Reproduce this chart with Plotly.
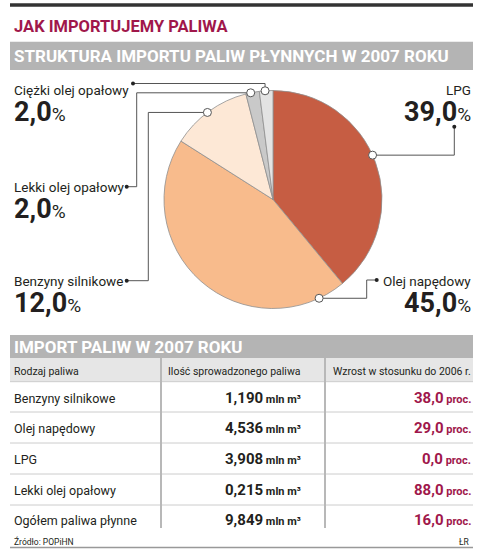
import math
import plotly.graph_objects as go

W, H = 482, 557

# ---- data ----
pie_labels = ["LPG", "Olej napędowy", "Benzyny silnikowe", "Lekki olej opałowy", "Ciężki olej opałowy"]
pie_values = [39.0, 45.0, 12.0, 2.0, 2.0]
pie_colors = ["#c65d43", "#f8bb8c", "#fde8d6", "#c9c9c9", "#e3e3e3"]

table_fuels = ["Benzyny silnikowe", "Olej napędowy", "LPG", "Lekki olej opałowy", "Ogółem paliwa płynne"]
table_amounts = [1.190, 4.536, 3.908, 0.215, 9.849]
table_growth = [38.0, 29.0, 0.0, 88.0, 16.0]
table_headers = ["Rodzaj paliwa", "Ilość sprowadzonego paliwa", "Wzrost w stosunku do 2006 r."]

title = "JAK IMPORTUJEMY PALIWA"
subtitle1 = "STRUKTURA IMPORTU PALIW PŁYNNYCH W 2007 ROKU"
subtitle2 = "IMPORT PALIW W 2007 ROKU"
source = "Źródło: POPiHN"
author = "ŁR"

FONT = "Roboto, Liberation Sans, sans-serif"
DARK = "#231f20"
RED = "#a0174b"


def px(x):
    return x / W


def py(y):
    return 1 - y / H


def fmt(v, d):
    return f"{v:.{d}f}".replace(".", ",")


fig = go.Figure()

# pie geometry (pixels)
CX, CY, R = 273, 199.5, 109
fig.add_trace(go.Pie(
    labels=pie_labels, values=pie_values, sort=False, direction="clockwise", rotation=0,
    marker=dict(colors=pie_colors, line=dict(color="#8f8f8f", width=0.8)),
    textinfo="none", hoverinfo="label+percent", showlegend=False,
    domain=dict(x=[px(CX - R), px(CX + R)], y=[py(CY + R), py(CY - R)]),
))

total = sum(pie_values)
# fraction within each slice where the leader line touches the pie
touch = [0.47, 0.09, 0.477, 0.36, 0.42]
anchors = []
cum = 0
for v, f in zip(pie_values, touch):
    a = (cum + v * f) / total * 2 * math.pi
    anchors.append((CX + R * math.sin(a), CY - R * math.cos(a)))
    cum += v

shapes = []
# header bars
shapes.append(dict(type="rect", xref="paper", yref="paper", x0=px(10), x1=px(473), y0=py(6.7), y1=py(3.3),
                   fillcolor="#333333", line_width=0))
shapes.append(dict(type="rect", xref="paper", yref="paper", x0=px(10), x1=px(473), y0=py(70), y1=py(41.7),
                   fillcolor="#b4b4b4", line_width=0))
shapes.append(dict(type="rect", xref="paper", yref="paper", x0=px(10), x1=px(473), y0=py(358), y1=py(335),
                   fillcolor="#b4b4b4", line_width=0))
shapes.append(dict(type="rect", xref="paper", yref="paper", x0=px(10), x1=px(473), y0=py(381.7), y1=py(358),
                   fillcolor="#e6e6e6", line_width=0))

# leader lines: label-end dot, elbow path, pie point
LC = "#555555"
leader = {
    "LPG": [(454.3, 126.7), (454.3, None)],
    "Olej napędowy": [(376.7, 280), (366.7, 280), (366.7, None)],
    "Benzyny silnikowe": [(126.7, 280.7), (148.3, 280.7), (148.3, None)],
    "Lekki olej opałowy": [(126.7, 186.7), (136.7, 186.7), (136.7, None)],
    "Ciężki olej opałowy": [(133, 83.5), (None, 83.5)],
}
for lab, (ax, ay) in zip(pie_labels, anchors):
    pts = leader[lab]
    full = []
    for (x, y) in pts:
        full.append((x if x is not None else ax, y if y is not None else ay))
    full.append((ax, ay))
    path = "M " + " L ".join(f"{px(x)},{py(y)}" for x, y in full)
    shapes.append(dict(type="path", xref="paper", yref="paper", path=path, line=dict(color=LC, width=1)))
    x0, y0 = full[0]
    shapes.append(dict(type="circle", xref="paper", yref="paper", x0=px(x0 - 2), x1=px(x0 + 2),
                       y0=py(y0 + 2), y1=py(y0 - 2), fillcolor="#222222", line_width=0))
    shapes.append(dict(type="circle", xref="paper", yref="paper", x0=px(ax - 4), x1=px(ax + 4),
                       y0=py(ay + 4), y1=py(ay - 4), fillcolor="white", line=dict(color="#555555", width=1)))

# table lines
for y in [381.7, 412, 443, 474, 505]:
    shapes.append(dict(type="line", xref="paper", yref="paper", x0=px(10), x1=px(473), y0=py(y), y1=py(y),
                       line=dict(color="#cccccc", width=1)))
for x in [161, 325]:
    shapes.append(dict(type="line", xref="paper", yref="paper", x0=px(x), x1=px(x), y0=py(358), y1=py(528),
                       line=dict(color="#b8b8b8", width=2)))
shapes.append(dict(type="line", xref="paper", yref="paper", x0=px(10), x1=px(473), y0=py(547.5), y1=py(547.5),
                   line=dict(color="#999999", width=1.5)))

ann = []


def text(x, y, s, size, color=DARK, xanchor="left", bold=False):
    if bold:
        s = f"<b>{s}</b>"
    ann.append(dict(xref="paper", yref="paper", x=px(x), y=py(y), text=s, showarrow=False,
                    xanchor=xanchor, yanchor="middle", font=dict(family=FONT, size=size, color=color),
                    borderpad=0))


text(13, 26, title, 16.5, RED, bold=True)
text(13, 56, subtitle1, 17, "white", bold=True)
text(13, 346.5, subtitle2, 17, "white", bold=True)

# pie labels
label_pos = {
    "Ciężki olej opałowy": (13, 89.5, 112, "left"),
    "Lekki olej opałowy": (13, 186.5, 208.5, "left"),
    "Benzyny silnikowe": (13, 280.5, 302.5, "left"),
    "LPG": (472, 89.5, 112, "right"),
    "Olej napędowy": (472, 280.5, 302.5, "right"),
}
for lab, v in zip(pie_labels, pie_values):
    x, y1, y2, xa = label_pos[lab]
    text(x, y1, lab, 13.5, xanchor=xa)
    text(x, y2, f"<b>{fmt(v, 1)}</b><span style='font-size:19px'>%</span>", 27, xanchor=xa)

# table header
text(13, 371, table_headers[0], 10.5)
text(302, 371, table_headers[1], 10.5, xanchor="right")
text(472, 371, table_headers[2], 10.5, xanchor="right")

row_y = [398, 428, 459, 490, 520]
for y, f, a, g in zip(row_y, table_fuels, table_amounts, table_growth):
    text(13, y, f, 12.5)
    text(302, y, f"<b>{fmt(a, 3)}</b><span style='font-size:11px'><b> mln m³</b></span>", 15, xanchor="right")
    text(472, y, f"<b>{fmt(g, 1)}</b><span style='font-size:11px'><b> proc.</b></span>", 15, RED, xanchor="right")

text(13, 541.5, source, 8.5)
text(471, 541.5, author, 8.5, xanchor="right")

fig.update_layout(width=W, height=H, margin=dict(l=0, r=0, t=0, b=0), paper_bgcolor="white",
                  plot_bgcolor="white", shapes=shapes, annotations=ann)
fig.write_html("out.html")
